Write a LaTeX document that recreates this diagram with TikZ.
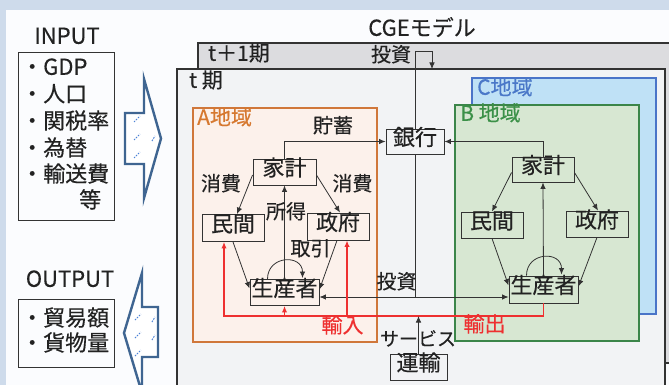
\documentclass[tikz,border=0pt]{standalone}
\usepackage{fontspec}
\setmainfont{Noto Sans CJK JP}[FakeBold=0.35]
\usetikzlibrary{arrows.meta,calc}
\definecolor{bgc}{HTML}{CEDBEB}
\definecolor{panel}{HTML}{FBFCFE}
\definecolor{tonefill}{HTML}{DCDCDF}
\definecolor{tfill}{HTML}{F2F3F5}
\definecolor{afill}{HTML}{FCF1EB}
\definecolor{adraw}{HTML}{D0773A}
\definecolor{atext}{HTML}{D6782F}
\definecolor{bfill}{HTML}{D7E7D2}
\definecolor{bdraw}{HTML}{3B8549}
\definecolor{btext}{HTML}{3B9048}
\definecolor{cfill}{HTML}{BFE1F6}
\definecolor{cdraw}{HTML}{4A74C8}
\definecolor{ctext}{HTML}{4A78C8}
\definecolor{redc}{HTML}{EE3030}
\definecolor{dark}{HTML}{333333}
\definecolor{txt}{HTML}{222222}
\definecolor{barrow}{HTML}{3F6591}
\definecolor{dashblue}{HTML}{4A82D6}
\begin{document}
\begin{tikzpicture}[x=1pt,y=-1pt,
  lbl/.style={font=\fontsize{20}{20}\selectfont, text=txt, inner sep=0pt, text height=.88em, text depth=.12em},
  item/.style={font=\fontsize{22}{22}\selectfont, text=txt, inner sep=0pt, anchor=west, text height=.88em, text depth=.12em},
  bx/.style={draw=dark, line width=.9pt, inner sep=0pt, font=\fontsize{22}{22}\selectfont, text=txt, text height=.88em, text depth=.12em},
  conn/.style={draw=dark, line width=.8pt},
  arr/.style={conn, -{Latex[length=6.5pt,width=5.5pt]}},
  rarr/.style={draw=redc, line width=1.3pt, -{Latex[length=6.5pt,width=5.5pt]}},
  blockarrow/.style={draw=barrow, line width=2.4pt, fill=white, line join=miter},
  dsh/.style={draw=dashblue, line width=1pt, dash pattern=on 1.6pt off 1.2pt}
]
\useasboundingbox (0,0) rectangle (669,385);
\clip (0,0) rectangle (669,385);
\fill[bgc] (0,0) rectangle (669,385);
\fill[panel] (6,10) rectangle (669,385);

% INPUT / OUTPUT
\node[lbl, font=\fontsize{22}{22}\selectfont] (inputL) at (67,40) {INPUT};
\node[draw=dark, line width=.9pt, minimum width=96pt, minimum height=168pt, inner sep=0pt] (inbox) at (66,136) {};
\node[item] (i1) at (21,71) {・GDP};
\node[item] (i2) at (21,98) {・人口};
\node[item] (i3) at (21,125) {・関税率};
\node[item] (i4) at (21,152) {・為替};
\node[item] (i5) at (21,178) {・輸送費};
\node[item] (i6) at (79,204) {等};

\node[lbl, font=\fontsize{22}{22}\selectfont] (outputL) at (70,283) {OUTPUT};
\node[draw=dark, line width=.9pt, minimum width=96pt, minimum height=68pt, inner sep=0pt] (outbox) at (66,333) {};
\node[item] (o1) at (21,322) {・貿易額};
\node[item] (o2) at (21,347) {・貨物量};

% block arrows
\draw[blockarrow] (125,113) -- (144,113) -- (144,79) -- (161,138.5) -- (144,198) -- (144,164) -- (125,164) -- cycle;
\draw[dsh] (134,122) -- (140,116);
\draw[dsh] (134,140) -- (140,134);
\draw[dsh] (134,158) -- (140,152);
\draw[dsh] (152,141) -- (155,136);
\draw[blockarrow] (158,307) -- (142,307) -- (142,273) -- (124,333) -- (142,393) -- (142,357) -- (158,357) -- cycle;
\draw[dsh] (135,320) -- (141,314);
\draw[dsh] (135,338) -- (141,332);
\draw[dsh] (135,356) -- (141,350);
\draw[dsh] (152,322) -- (155,317);
\draw[dsh] (152,340) -- (155,335);

% model frame
\node[lbl, font=\fontsize{22}{22}\selectfont] (cge) at (422,32) {CGEモデル};
\draw[draw=dark, line width=1.2pt, fill=tonefill] (198,43) rectangle (690,363);
\draw[draw=dark, line width=1.2pt, fill=tfill] (177,69) rectangle (665,400);
\node[lbl, font=\fontsize{21}{21}\selectfont, anchor=west] (t1L) at (208,57) {t＋1期};
\node[lbl, font=\fontsize{21}{21}\selectfont, anchor=west] (tL) at (189,84) {t 期};

% regions
\draw[draw=cdraw, line width=1.6pt, fill=cfill] (472,78) rectangle (656,314);
\draw[draw=bdraw, line width=1.8pt, fill=bfill] (455,105) rectangle (639,341);
\draw[draw=adraw, line width=1.3pt, fill=afill] (193,108) rectangle (377,342);
\node[lbl, font=\fontsize{21}{21}\selectfont, text=ctext, anchor=west] (cL) at (477,91) {C地域};
\node[lbl, font=\fontsize{21}{21}\selectfont, text=btext, anchor=west] (bL) at (460,117) {B 地域};
\node[lbl, font=\fontsize{21}{21}\selectfont, text=atext, anchor=west] (aL) at (197,121) {A地域};

% coordinates
\coordinate (tup1) at (415,51);
\coordinate (tup2) at (432,51);
\coordinate (tupE) at (432,69);
\coordinate (inv) at (415,297);
\coordinate (redL) at (224,316);

% investment line through the bank, up to period t+1
\draw[conn] (inv) -- (tup1) -- (tup2);
\draw[arr] (tup2) -- (tupE);

% boxes
\node[bx, fill=tfill, minimum width=58pt, minimum height=25pt] (bank) at (415,141.5) {銀行};
\node[bx, fill=afill, minimum width=63pt, minimum height=26pt] (aH) at (284.5,172) {家計};
\node[bx, fill=afill, minimum width=62pt, minimum height=27pt] (aM) at (233,228) {民間};
\node[bx, fill=afill, minimum width=62pt, minimum height=27pt] (aG) at (338,226.5) {政府};
\node[bx, fill=afill, minimum width=69pt, minimum height=26pt] (aP) at (284.5,292.5) {生産者};
\node[bx, fill=bfill, minimum width=62pt, minimum height=25pt] (bH) at (543,169.5) {家計};
\node[bx, fill=bfill, minimum width=62pt, minimum height=26pt] (bM) at (492,225) {民間};
\node[bx, fill=bfill, minimum width=62pt, minimum height=26pt] (bG) at (597,224) {政府};
\node[bx, fill=bfill, minimum width=69pt, minimum height=27pt] (bP) at (543.5,289.5) {生産者};
\node[bx, fill=tfill, minimum width=57pt, minimum height=26pt] (tr) at (418.5,367) {運輸};

% savings
\draw[arr] (aH.north) |- (bank.west);
\draw[arr] (bH.north) |- (bank.east);
% investment
\draw[arr] (inv) -- (inv -| aP.east);
\draw[arr] (inv) -- (inv -| bP.west);

% A flows
\draw[arr] ([yshift=-3pt]aH.west) -- ([xshift=4pt]aM.north);
\draw[arr] ([yshift=-3pt]aH.east) -- ([xshift=2pt]aG.north);
\draw[arr] (aM.south) -- ([yshift=4pt]aP.west);
\draw[arr] ([xshift=-1pt]aG.south) -- ([yshift=3pt]aP.east);
\draw[arr] (aP.north) -- (aH.south);
\draw[arr] ($(aP.north)+(-17,0)$) .. controls +(0,-24) and +(0,-24) .. ($(aP.north)+(18,-1)$);

% B flows
\draw[arr] ([yshift=-3pt]bH.west) -- (bM.north);
\draw[arr] ([yshift=-3pt]bH.east) -- ([xshift=1pt]bG.north);
\draw[arr] (bM.south) -- ([yshift=4pt]bP.west);
\draw[arr] (bG.south) -- ([yshift=3pt]bP.east);
\draw[arr] (bP.north) -- (bH.south);
\draw[arr] ($(bP.north)+(-17,0)$) .. controls +(0,-24) and +(0,-24) .. ($(bP.north)+(18,-1)$);

% trade (red)
\coordinate (gx) at ([xshift=9pt]aG.south);
\draw[rarr] (bP.south) |- (redL) -- (redL |- aM.south);
\draw[rarr] (aP.south |- redL) -- (aP.south);
\draw[rarr] (gx |- redL) -- (gx);
% transport service
\draw[arr] (tr.north) -- (tr.north |- redL);

% labels
\node[lbl] (invTop) at (391,58) {投資};
\node[lbl] (sav) at (333,129) {貯蓄};
\node[lbl] (c1) at (221,187) {消費};
\node[lbl] (c2) at (352.5,187) {消費};
\node[lbl] (inc) at (286,215) {所得};
\node[lbl] (trd) at (310.5,252) {取引};
\node[lbl] (invB) at (396.5,285) {投資};
\node[lbl, text=redc, font=\fontsize{21}{21}\selectfont] (imp) at (342.5,329) {輸入};
\node[lbl, text=redc, font=\fontsize{21}{21}\selectfont] (exp) at (484.5,328) {輸出};
\node[lbl, font=\fontsize{19}{19}\selectfont] (svc) at (418,342) {サービス};
\end{tikzpicture}
\end{document}
